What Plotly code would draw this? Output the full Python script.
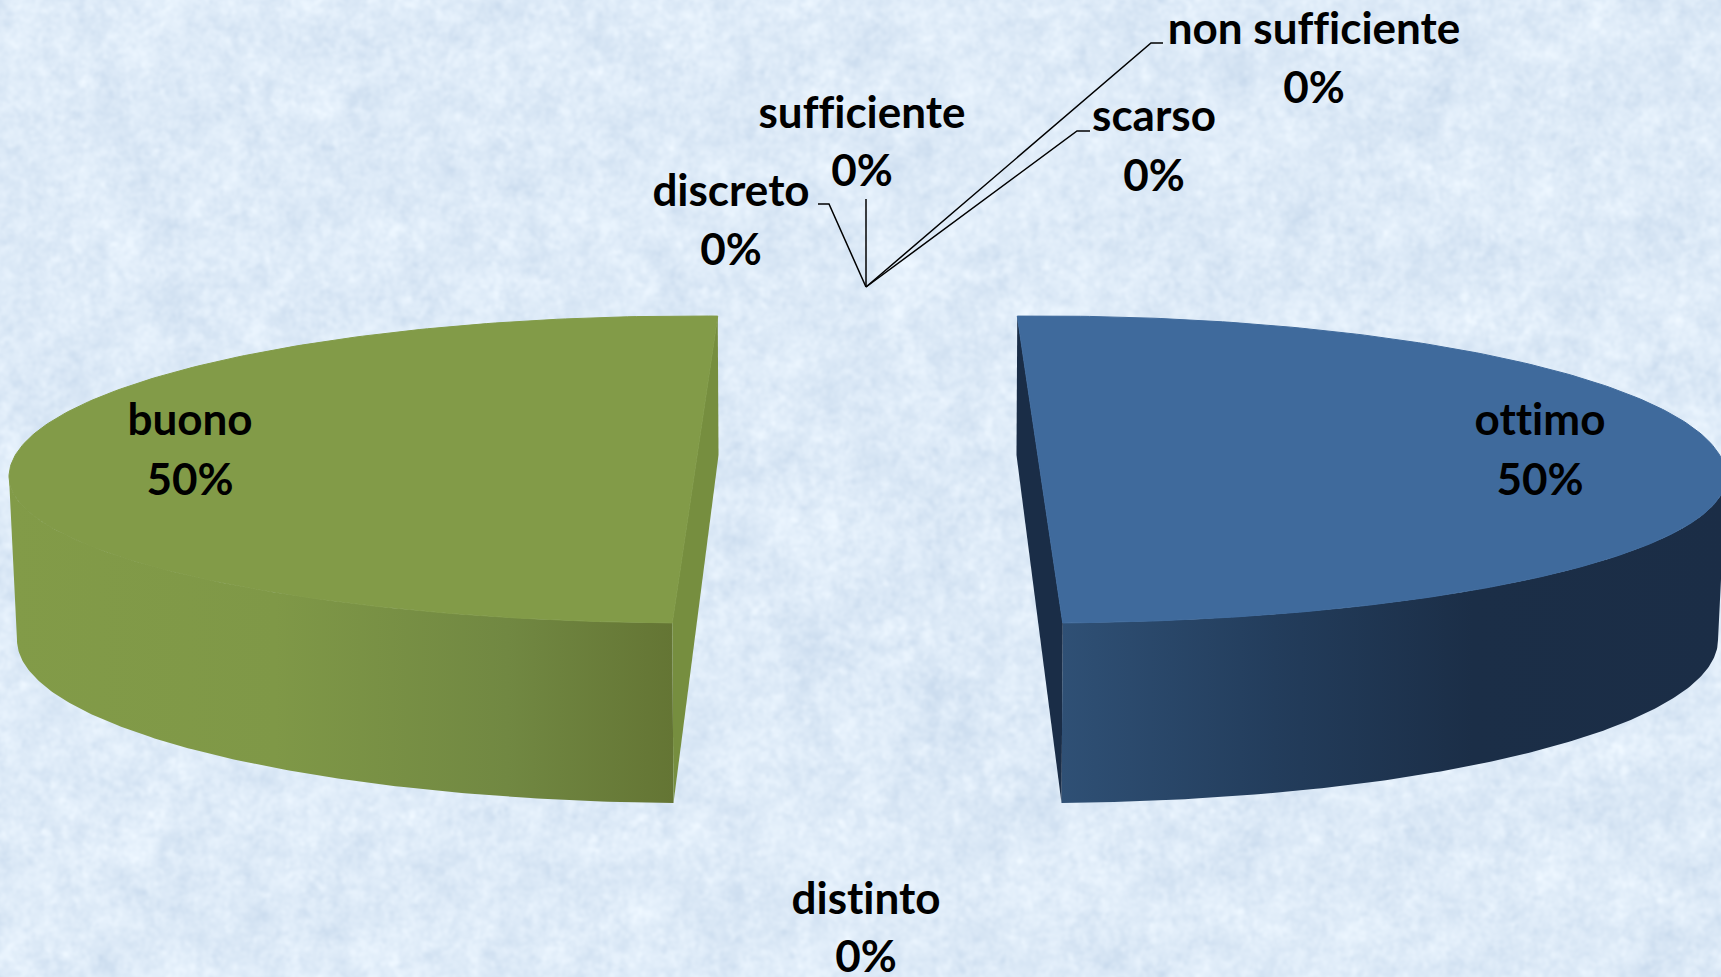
import base64
import struct
import zlib

import numpy as np
import plotly.graph_objects as go

# Data, in the chart's clockwise slice order
categories = ["ottimo", "distinto", "buono", "discreto", "sufficiente", "scarso", "non sufficiente"]
values = [50, 0, 50, 0, 0, 0, 0]

# Label placement, one row per category: name x, name y, percent y
label_x = [1540, 866, 190, 731, 862, 1154, 1314]
name_y = [424, 903, 424, 195, 117, 120, 33]
pct_y = [484, 961, 484, 254, 175, 180, 92]

# Leader line elbows for the near-zero slices (outer end, then elbow)
leader_hub = (866, 287)
leaders = {
    "discreto": [(829, 204), (818, 204)],
    "sufficiente": [(866, 199)],
    "scarso": [(1077, 131), (1090, 131)],
    "non sufficiente": [(1151, 43), (1163, 43)],
}

# Projection of the 3-D pie (back and front halves differ because of perspective)
W, H = 1721, 977
BG = "#DDEBF8"
MID_X = 867.5
TOP = dict(cy=477.0, a=686.0, b_back=161.0, b_front=146.0, explode=172.5)
BOT = dict(cy=640.0, a=679.0, b_back=185.0, b_front=163.0, explode=171.5)
START_DEG = 91.9       # angle of the first slice's leading edge
PERSPECTIVE_DEG = 3.8  # perspective skew between the two exploded slices

STYLE = {
    "ottimo": dict(top="#3F6A9C", cut="#1A2D47",
                   wall=[[0, "#2F5075"], [0.32, "#233D5C"], [0.62, "#1B2E47"], [1, "#1B2D46"]]),
    "buono": dict(top="#829B48", cut="#768E3F",
                  wall=[[0, "#829B48"], [0.40, "#7F9847"], [0.75, "#718842"], [1, "#647534"]]),
}


def paper_texture(width, height):
    """Soft mottled paper behind the chart: a hash field, low-pass filtered."""
    yy, xx = np.mgrid[0:height, 0:width].astype(float)
    h = np.sin(xx * 12.9898 + yy * 78.233) * 43758.5453
    h = h - np.floor(h) - 0.5
    fy = np.fft.fftfreq(height)[:, None]
    fx = np.fft.rfftfreq(width)[None, :]
    f = np.hypot(fx, fy)
    f[0, 0] = 1
    spec = np.fft.rfft2(h)
    spec *= (f ** -0.8) * np.exp(-(f / 0.14) ** 2) * (1 - np.exp(-(f / 0.004) ** 2))
    n = np.fft.irfft2(spec, s=(height, width))
    n = n / n.std()
    r = 222 + 4.5 * n
    g = 235 + 3.5 * n
    b_ = 248 + 2.2 * n
    img = np.clip(np.dstack([r, g, b_]), 0, 255).astype(np.uint8)
    raw = b"".join(b"\x00" + img[i].tobytes() for i in range(height))

    def chunk(tag, data):
        body = tag + data
        return struct.pack(">I", len(data)) + body + struct.pack(">I", zlib.crc32(body))

    png = (b"\x89PNG\r\n\x1a\n"
           + chunk(b"IHDR", struct.pack(">IIBBBBB", width, height, 8, 2, 0, 0, 0))
           + chunk(b"IDAT", zlib.compress(raw, 9)) + chunk(b"IEND", b""))
    return "data:image/png;base64," + base64.b64encode(png).decode()


def ell(p, direction, deg):
    th = np.radians(deg)
    s = np.sin(th)
    return (MID_X + direction * p["explode"] + p["a"] * np.cos(th),
            p["cy"] - np.where(s >= 0, p["b_back"], p["b_front"]) * s)


fig = go.Figure()
total = sum(values)
angle = START_DEG
for name, val in zip(categories, values):
    if val == 0:
        continue
    sweep = 360.0 * val / total
    start, end = angle, angle - sweep
    angle = end - PERSPECTIVE_DEG
    mid = (start + end) / 2
    d = 1 if np.cos(np.radians(mid)) > 0 else -1
    st = STYLE[name]
    # outer wall: only the part of the rim that faces the viewer (-180..0 degrees)
    wall_deg = np.linspace(max(end, -180), min(start, 0), 160)
    tx, ty = ell(TOP, d, wall_deg)
    bx, by = ell(BOT, d, wall_deg)
    fig.add_trace(go.Scatter(
        x=np.r_[tx, bx[::-1]], y=np.r_[ty, by[::-1]], mode="lines", line=dict(width=0),
        fill="toself", fillgradient=dict(type="horizontal", colorscale=st["wall"]),
        hoverinfo="skip", showlegend=False))
    # cut face along the slice's straight edge
    tax, tay = ell(TOP, d, np.array([start, end]))
    bax, bay = ell(BOT, d, np.array([start, end]))
    fig.add_trace(go.Scatter(
        x=[tax[0], tax[1], bax[1], bax[0], tax[0]], y=[tay[0], tay[1], bay[1], bay[0], tay[0]],
        mode="lines", line=dict(width=0), fill="toself", fillcolor=st["cut"],
        hoverinfo="skip", showlegend=False))
    # top surface
    ax, ay = ell(TOP, d, np.linspace(start, end, 240))
    fig.add_trace(go.Scatter(
        x=np.r_[ax, ax[0]], y=np.r_[ay, ay[0]], mode="lines", line=dict(width=1, color=st["top"]),
        fill="toself", fillcolor=st["top"], name=name, showlegend=False))

# leader lines
for name, pts in leaders.items():
    fig.add_trace(go.Scatter(
        x=[leader_hub[0]] + [p[0] for p in pts], y=[leader_hub[1]] + [p[1] for p in pts],
        mode="lines", line=dict(color="#000000", width=1.5), hoverinfo="skip", showlegend=False))

# labels
FONT = dict(family="Lato", size=44, color="#000000", weight="bold")
fig.add_trace(go.Scatter(x=label_x, y=name_y, mode="text", text=categories,
                         textposition="middle center", textfont=FONT, cliponaxis=False,
                         hoverinfo="skip", showlegend=False))
fig.add_trace(go.Scatter(x=label_x, y=pct_y, mode="text",
                         text=[f"{round(100 * v / total)}%" for v in values],
                         textposition="middle center", textfont=FONT, cliponaxis=False,
                         hoverinfo="skip", showlegend=False))

fig.update_layout(
    width=W, height=H, margin=dict(l=0, r=0, t=0, b=0), autosize=False,
    paper_bgcolor=BG, plot_bgcolor="rgba(0,0,0,0)",
    xaxis=dict(range=[0, W], visible=False, fixedrange=True),
    yaxis=dict(range=[H, 0], visible=False, fixedrange=True),
    images=[dict(source=paper_texture(W, H), xref="paper", yref="paper", x=0, y=1,
                 sizex=1, sizey=1, xanchor="left", yanchor="top", sizing="stretch", layer="below")],
)
fig.write_html("out.html", config={"displayModeBar": False},
               post_script="document.body.style.margin='0';document.body.style.overflow='hidden';"
                           "var s=document.createElement('style');"
                           "s.textContent='text{font-variant-ligatures:none !important;"
                           "font-feature-settings:\"liga\" 0,\"clig\" 0,\"dlig\" 0 !important;"
                           "-webkit-text-stroke:0.5px #000;}';"
                           "document.head.appendChild(s);")
